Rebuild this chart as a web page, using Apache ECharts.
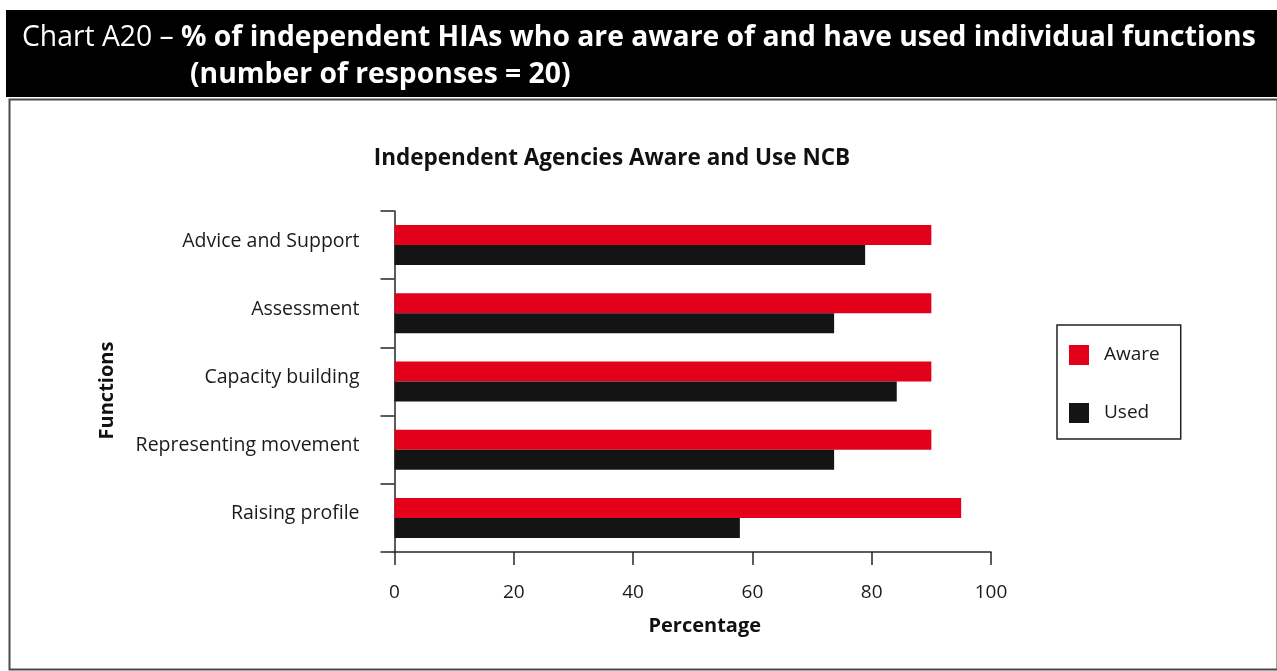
<!DOCTYPE html>
<html>
<head>
<meta charset="utf-8">
<title>Chart A20</title>
<script src="https://cdn.jsdelivr.net/npm/echarts@6/dist/echarts.min.js"></script>
<style>
  html, body { margin: 0; padding: 0; background: #fff; }
  #chart { width: 1277px; height: 671px; }
</style>
</head>
<body>
<div id="chart"></div>
<script>
// Functions surveyed (top to bottom)
const categories = ['Advice and Support', 'Assessment', 'Capacity building', 'Representing movement', 'Raising profile'];
// % of independent HIAs aware of each function
const aware = [90, 90, 90, 90, 95];
// % of independent HIAs that have used each function
const used = [78.9, 73.7, 84.2, 73.7, 57.9];
// Percentage axis ticks
const xTicks = [0, 20, 40, 60, 80, 100];

const FONT = '"Open Sans", "Noto Sans", sans-serif';
const RED = '#e2001a';
const BLACK = '#141414';
const AXIS = '#262626';

const chart = echarts.init(document.getElementById('chart'), null, { renderer: 'canvas' });

chart.setOption({
  animation: false,
  backgroundColor: '#fff',
  textStyle: { fontFamily: FONT, color: '#1a1a1a' },
  graphic: [
    // black heading band
    { type: 'rect', left: 6, top: 10, z: 0, shape: { width: 1271, height: 87 }, style: { fill: '#000' } },
    // frame around the chart area
    { type: 'rect', left: 7, top: 97, z: 0, shape: { width: 1268, height: 570 }, style: { fill: 'none', stroke: '#4a4a4a', lineWidth: 2 } },
    {
      type: 'text', left: 22, top: 24, z: 5,
      style: {
        text: '{r|Chart A20 – }{b|% of independent HIAs who are aware of and have used individual functions}',
        rich: {
          r: { fontFamily: FONT, fontSize: 28.3, fill: '#fff', fontWeight: 'normal' },
          b: { fontFamily: FONT, fontSize: 28.3, fill: '#fff', fontWeight: 'bold' }
        }
      }
    },
    {
      type: 'text', left: 190, top: 61, z: 5,
      style: { text: '(number of responses = 20)', fontFamily: FONT, fontSize: 28.3, fontWeight: 'bold', fill: '#fff' }
    }
  ],
  title: {
    text: 'Independent Agencies Aware and Use NCB',
    left: 607, top: 142, textAlign: 'center',
    textStyle: { fontFamily: FONT, fontSize: 22.5, fontWeight: 'bold', color: '#111' }
  },
  legend: {
    orient: 'vertical',
    left: 1057, top: 325,
    padding: [20, 21, 16, 12],
    itemWidth: 20, itemHeight: 20, itemGap: 38,
    icon: 'rect',
    borderColor: '#222', borderWidth: 1.5,
    textStyle: { fontFamily: FONT, fontSize: 19, color: '#1a1a1a', padding: [0, 0, 0, 10] },
    data: ['Aware', 'Used']
  },
  grid: { left: 394.5, top: 211, width: 596.5, height: 341, containLabel: false },
  xAxis: {
    type: 'value', min: 0, max: 100, interval: 20,
    name: 'Percentage', nameLocation: 'middle', nameGap: 64,
    nameTextStyle: { fontFamily: FONT, fontSize: 20, fontWeight: 'bold', color: '#111', padding: [0, 0, 0, 24] },
    axisLine: { show: true, lineStyle: { color: AXIS, width: 1.5 } },
    axisTick: { show: true, length: 13, lineStyle: { color: AXIS, width: 1.5 } },
    axisLabel: { fontFamily: FONT, fontSize: 19, color: '#1a1a1a', margin: 31,
      formatter: v => xTicks.includes(v) ? String(v) : '' },
    splitLine: { show: false }
  },
  yAxis: {
    type: 'category', data: categories, inverse: true,
    name: 'Functions', nameLocation: 'middle', nameGap: 277, nameRotate: 90,
    nameTextStyle: { fontFamily: FONT, fontSize: 20, fontWeight: 'bold', color: '#111', padding: [0, 18, 0, 0] },
    axisLine: { show: true, lineStyle: { color: AXIS, width: 1.5 } },
    axisTick: { show: true, length: 14, lineStyle: { color: AXIS, width: 1.5 } },
    axisLabel: {
      margin: 35,
      formatter: v => '{c|' + v + '}',
      rich: { c: { fontFamily: FONT, fontSize: 19.5, color: '#1a1a1a', padding: [0, 0, 8, 0] } }
    }
  },
  series: [
    { name: 'Aware', type: 'bar', data: aware, barWidth: 20, barGap: '0%', itemStyle: { color: RED } },
    { name: 'Used', type: 'bar', data: used, barWidth: 20, barGap: '0%', itemStyle: { color: BLACK } }
  ]
});
</script>
</body>
</html>
